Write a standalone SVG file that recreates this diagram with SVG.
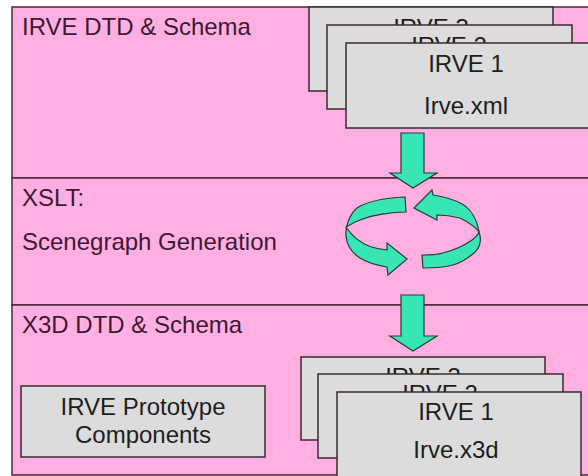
<svg xmlns="http://www.w3.org/2000/svg" width="588" height="476" viewBox="0 0 588 476">
<style>
.band{fill:#FFAFE2;stroke:#4A2A3C;stroke-width:1.5}
.box{fill:#DCDCDC;stroke:#3A2A32;stroke-width:1.5}
.title{font-family:"Liberation Sans",Arial,sans-serif;font-size:24px;fill:#3C1A32}
.lbl{font-family:"Liberation Sans",Arial,sans-serif;font-size:24px;fill:#1E1E1E;text-anchor:middle}
.arr{fill:#38E5B4;stroke:#2A3A36;stroke-width:1.2;stroke-linejoin:miter}
</style>
<rect width="588" height="476" fill="#FFFFFF"/>
<g id="band-irve">
<rect class="band" x="12" y="7" width="600" height="171"/>
<text class="title" x="22" y="35">IRVE DTD &amp; Schema</text>
</g>
<g id="band-xslt">
<rect class="band" x="12" y="178" width="600" height="127"/>
<text class="title" x="22" y="206">XSLT:</text>
<text class="title" x="22" y="250">Scenegraph Generation</text>
</g>
<g id="band-x3d">
<rect class="band" x="12" y="305" width="600" height="170"/>
<text class="title" x="22" y="333">X3D DTD &amp; Schema</text>
</g>
<g id="xml-irve3">
<rect class="box" x="309" y="7" width="244" height="84"/>
<text class="lbl" x="431" y="36">IRVE 3</text>
</g>
<g id="xml-irve2">
<rect class="box" x="327" y="25" width="245" height="84"/>
<text class="lbl" x="449" y="54">IRVE 2</text>
</g>
<g id="xml-irve1">
<rect class="box" x="346" y="43" width="250" height="85"/>
<text class="lbl" x="466" y="72">IRVE 1</text>
<text class="lbl" x="466" y="114">Irve.xml</text>
</g>
<g id="xslt-cycle">
<path class="arr" d="M405,197 L406,212 C392,212 372,215 360,220 C352,223 348,226 346,227 C350,233 358,242 370,246.5 C376,248.5 382,249.5 387,250 L387,243 L407,259 L388,275 L387,267 C376,265 366,262 360,258 C352,253 347,246 346,236 C345,226 350,214 357,208 C366,202 385,198 405,197 Z"/>
<path class="arr" d="M414,208 L432,190 L433,195 C445,197 454,199 462,204 C471,209 477,220 479,232 C477,229 472,224 460,218 C452,216 444,215 437,215 L437,220 Z"/>
<path class="arr" d="M479,232 C482,240 480,248 474,253 C467,259 460,263 453,265 C443,268 432,268 423,268 L422,255 C430,255 437,255 443,253 C455,250 465,245 472,240 C476,237 478,235 479,232 Z"/>
</g>
<g id="x3d-irve3">
<rect class="box" x="301" y="357" width="244" height="83"/>
<text class="lbl" x="423" y="385">IRVE 3</text>
</g>
<g id="x3d-irve2">
<rect class="box" x="318" y="374" width="245" height="84"/>
<text class="lbl" x="440" y="402">IRVE 2</text>
</g>
<g id="x3d-irve1">
<rect class="box" x="337" y="392" width="244" height="90"/>
<text class="lbl" x="456" y="420">IRVE 1</text>
<text class="lbl" x="456" y="458">Irve.x3d</text>
</g>
<g id="prototype">
<rect class="box" x="21" y="386" width="244" height="71"/>
<text class="lbl" x="143" y="415">IRVE Prototype</text>
<text class="lbl" x="143" y="443">Components</text>
</g>
<g id="connectors">
<path class="arr" d="M401,133 L424,133 L424,173 L437,173 L413,188 L390,173 L401,173 Z"/>
<path class="arr" d="M401,295 L424,295 L424,336 L437,336 L413,351 L390,336 L401,336 Z"/>
</g>
</svg>
